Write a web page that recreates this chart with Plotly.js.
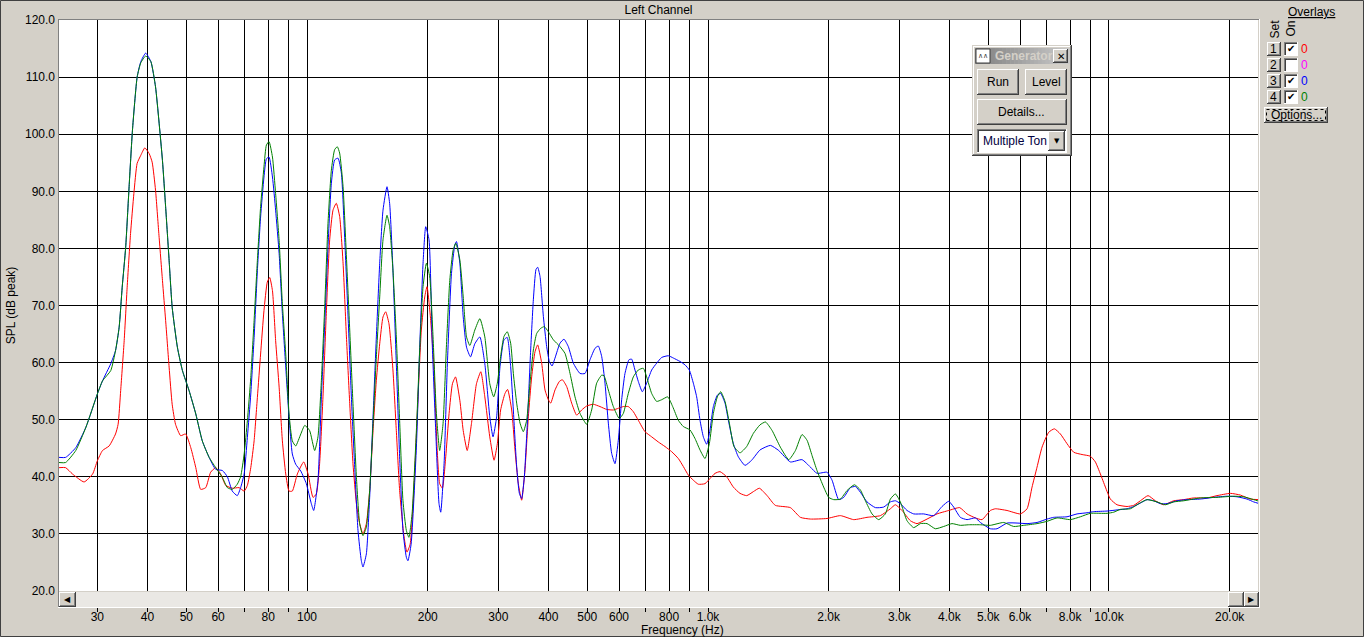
<!DOCTYPE html>
<html>
<head>
<meta charset="utf-8">
<script src="https://cdn.plot.ly/plotly-3.0.1.min.js"></script>
<style>html,body{margin:0;padding:0;background:#D4D0C8;}#chart{width:1364px;height:637px;}</style>
</head>
<body>
<div id="chart"></div>
<script>
// ---------------- DATA ----------------
const chartTitle = 'Left Channel';
const xTitle = 'Frequency (Hz)';
const yTitle = 'SPL (dB peak)';

const xTickVals = [30,40,50,60,70,80,90,100,200,300,400,500,600,700,800,900,1000,2000,3000,4000,5000,6000,7000,8000,9000,10000,20000];
const xTickText = ['30','40','50','60','','80','','100','200','300','400','500','600','','800','','1.0k','2.0k','3.0k','4.0k','5.0k','6.0k','','8.0k','','10.0k','20.0k'];
const yTickVals = [20,30,40,50,60,70,80,90,100,110,120];
const yTickText = ['20.0','30.0','40.0','50.0','60.0','70.0','80.0','90.0','100.0','110.0','120.0'];

// Set 1 (red)
const freqRed = [24.07,25.0,26.0,27.8,29.2,30.0,30.9,32.1,33.3,33.8,34.3,35.0,35.6,36.3,37.0,37.7,38.5,39.4,40.4,41.1,41.9,42.7,43.6,44.4,45.3,46.1,47.0,48.4,49.8,51.3,52.8,54.3,55.9,57.5,59.2,60.9,62.7,65.1,67.7,69.7,71.0,72.4,73.8,75.2,76.6,78.1,79.6,80.7,82.0,83.5,85.2,86.8,88.5,90.2,91.9,94.6,98.1,
 100.6,103.5,105.5,107.5,109.6,111.7,113.9,116.1,118.3,120.6,123.0,125.4,127.8,130.2,132.8,135.3,137.9,140.6,143.3,146.1,148.9,151.8,154.7,157.1,160.1,163.8,167.0,170.2,174.2,177.5,180.8,185.2,189.2,192.8,196.6,199.2,203.1,207.0,211.0,214.2,217.6,221.8,226.1,230.5,234.6,240.5,245.2,250.9,257.1,264.6,271.3,277.6,285.6,292.7,
 298.3,304.0,311.7,316.4,323.9,330.1,336.5,343.0,349.6,356.4,363.3,370.3,376.0,384.8,392.2,399.8,405.2,415.4,425.9,433.3,444.2,457.1,470.4,484.1,498.2,517.6,537.8,558.8,580.6,597.5,614.9,632.8,651.3,670.2,696.4,723.6,751.8,781.2,811.7,843.4,867.9,893.2,919.2,946.0,983.0,1011.6,1041.1,1071.4,1113.3,1156.7,1201.8,1248.7,1297.4,1342.9,
 1404,1472,1605,1700,1800,1981,2139,2309,2492,2691,2850,2933,3047,3197,3321,3518,3725,3983,4243,4426,4643,4824,5060,5208,5569,6012,6247,6429,6616,6809,7075,7309,7565,7859,8167,8567,8987,9248,9518,9795,10081,10474,11093,11525,11975,12514,13052,13692,14501,15358,16265,17558,18595,20077,21263,22521,23717];
const splRed = [41.6,41.6,40.5,39.1,40.5,42.8,44.6,45.4,47.5,49.2,55.1,63.9,73.2,82.6,89.6,94.9,96.3,97.6,96.6,95.1,90.2,82.6,74.4,67.4,59.2,52.7,49.2,47.2,47.5,45.1,41.6,37.8,38.1,40.8,41.6,40.5,38.5,38.0,38.1,37.5,38.5,41.6,46.3,53.9,61.5,69.1,74.1,74.9,72.6,63.9,55.7,46.3,40.5,37.5,37.5,40.5,42.6,
 40.5,36.4,37.0,42.3,54.0,68.6,81.5,86.7,87.9,85.6,77.4,64.5,52.8,42.3,35.3,31.8,30.0,31.8,37.6,48.1,56.9,63.3,68.0,68.9,66.8,58.7,48.1,37.6,30.0,26.8,28.2,39.4,54.0,65.7,71.5,73.3,68.0,59.8,45.2,38.8,38.0,43.5,51.1,56.3,57.5,53.4,48.1,44.6,49.3,56.3,58.4,54.0,47.0,42.9,
 45.8,51.7,54.6,55.3,51.7,44.7,38.8,35.9,41.2,50.5,57.5,61.9,63.1,59.9,55.2,53.5,52.9,55.2,56.7,57.0,55.8,52.9,50.8,51.7,52.4,52.7,52.3,51.8,51.7,52.0,52.3,52.3,51.4,49.9,47.9,47.0,46.1,45.3,44.4,43.2,41.8,40.3,39.4,38.7,38.8,39.7,40.6,40.9,40.0,38.2,37.1,36.7,37.4,38.0,
 36.7,35.0,34.6,32.9,32.6,32.7,33.2,32.5,32.9,33.2,34.4,35.1,34.1,32.3,31.8,32.6,33.5,34.1,34.6,33.5,32.8,32.5,34.1,34.4,34.1,33.5,34.4,38.2,41.7,45.2,47.8,48.4,47.5,45.8,44.3,43.9,43.6,42.6,40.5,38.2,36.1,35.1,34.8,35.0,35.8,36.7,35.8,35.1,35.8,36.0,36.3,36.3,36.7,37.1,36.8,36.1,36.0];

// Set 3 (blue)
const freqBlue = [24.07,25.0,26.5,28.1,30.0,30.9,32.4,33.3,34.0,34.6,35.3,36.0,36.7,37.7,38.5,39.6,40.8,41.9,42.7,43.6,44.4,45.3,46.1,47.5,48.9,50.8,52.8,54.8,57.0,59.2,61.5,63.3,65.1,67.0,68.3,69.7,71.0,72.4,73.8,75.2,76.6,78.1,79.2,80.4,82.0,83.5,85.2,86.8,88.5,90.2,91.9,93.7,96.5,
 99.6,102.5,103.9,106.5,108.6,110.7,112.8,115.0,117.2,119.5,121.8,124.2,126.6,129.0,131.5,134.0,136.6,137.9,140.6,143.3,146.1,148.9,151.8,154.7,158.3,160.7,163.8,167.0,170.2,173.5,176.9,178.5,181.8,187.4,191.0,194.7,197.7,201.5,205.4,209.4,213.4,215.5,219.7,223.9,229.2,233.7,235.9,240.5,245.2,249.9,255.7,262.1,269.8,277.6,285.6,291.0,
 297.1,302.9,309.9,315.8,322.0,327.0,333.3,338.5,343.0,348.3,355.0,361.2,366.8,372.4,376.0,381.1,388.5,396.0,402.1,408.3,415.4,427.5,437.4,448.4,461.5,479.5,493.5,507.8,522.6,532.7,543.0,553.5,564.2,575.1,586.2,597.5,609.1,620.8,635.2,645.1,657.5,670.2,685.8,703.1,723.6,744.7,766.4,796.3,819.5,851.5,876.3,898.4,919.2,937.0,955.1,973.6,992.4,1011.6,1031.2,1055.1,1075.5,1102.7,1124.0,1156.7,1190.3,1236.8,1285.0,1348.1,
 1431,1501,1605,1716,1800,1870,1981,2039,2118,2180,2265,2331,2399,2492,2615,2743,2850,2933,3018,3136,3258,3451,3655,3834,3983,4099,4259,4426,4643,4778,5060,5258,5569,5898,6247,6616,7007,7281,7859,8325,8816,9161,9889,10474,11093,11525,11975,12442,12928,13433,13957,14781,15654,16899,18242,19696,20860,22093,22956,23717];
const splBlue = [43.4,43.4,45.1,48.7,54.5,56.8,59.8,62.1,66.2,73.2,80.2,90.8,100.7,110.0,112.7,114.2,112.7,108.3,102.5,95.4,87.3,77.9,69.7,62.7,58.6,55.1,51.0,46.3,43.4,41.3,41.1,40.0,37.5,36.7,38.1,40.5,46.9,54.5,64.4,76.1,85.5,92.5,95.7,96.0,92.5,86.7,79.1,68.6,59.2,50.4,44.0,42.2,41.0,
 38.8,35.3,34.1,39.4,54.0,66.8,80.3,91.4,95.5,95.8,93.2,81.5,68.0,54.0,41.7,30.6,25.3,24.2,26.5,36.4,50.5,64.5,77.4,86.7,90.8,87.9,76.2,59.8,43.5,30.6,25.9,25.3,28.2,45.2,62.7,77.4,83.8,81.5,62.7,48.1,35.3,33.8,42.3,59.8,75.6,80.6,81.2,77.4,68.0,62.7,61.0,63.3,64.5,59.8,50.5,47.0,
 50.5,59.3,64.0,64.4,59.3,51.7,41.8,37.1,36.2,40.0,50.5,62.2,71.0,76.3,76.7,75.1,68.1,62.8,60.2,59.4,60.8,63.4,64.1,62.8,59.9,58.1,58.1,60.5,62.5,62.9,61.1,56.4,49.4,44.1,42.3,46.4,53.5,58.1,60.5,60.6,58.7,56.7,54.9,56.4,58.7,59.9,60.9,61.2,60.8,60.2,59.6,58.7,56.4,54.0,49.9,47.0,45.7,48.2,52.3,54.3,54.6,52.9,49.9,45.8,43.5,42.0,42.9,44.7,
 45.5,44.6,42.6,43.0,41.7,40.6,40.8,39.4,36.0,36.4,38.1,38.3,37.3,35.6,34.6,34.7,35.6,35.8,35.3,34.1,33.5,33.5,33.2,34.8,35.7,34.7,32.9,32.5,32.8,32.0,30.9,30.9,31.9,31.9,31.8,32.0,32.6,32.9,33.0,33.5,33.7,33.9,34.0,34.2,34.4,34.8,35.4,36.0,35.8,35.3,35.3,35.8,36.0,36.1,36.4,36.6,36.5,36.1,35.6,35.3];

// Set 4 (green)
const freqGreen = [24.07,25.0,26.5,28.1,30.0,30.9,32.4,33.3,34.0,34.6,35.3,36.0,36.7,37.7,38.5,39.6,40.8,41.9,42.7,43.6,44.4,45.3,46.1,47.5,48.9,50.8,52.8,54.8,57.0,59.2,61.5,63.3,65.1,67.0,68.3,69.7,71.0,72.4,73.8,75.2,76.6,78.1,79.2,80.4,82.0,83.5,85.2,86.8,88.5,90.2,91.9,93.7,96.5,
 98.7,101.5,104.5,106.5,108.6,110.7,112.8,115.0,117.2,119.0,120.6,123.0,125.4,127.8,130.2,132.8,135.3,137.9,140.6,143.3,146.1,148.9,151.8,154.7,158.3,160.7,163.8,167.0,170.2,173.5,176.9,179.5,182.8,187.4,191.0,194.7,198.5,202.3,206.2,210.2,214.2,218.4,222.6,227.0,231.4,235.0,240.5,245.2,249.9,254.7,262.1,269.8,277.6,285.6,292.1,
 298.3,304.0,309.9,315.8,322.0,327.0,333.3,339.8,346.3,353.0,359.8,366.8,373.9,382.6,390.7,399.8,411.4,427.5,440.0,452.8,465.9,479.5,498.2,512.7,527.6,543.0,550.3,564.2,580.6,601.0,614.9,632.8,651.3,670.2,689.8,703.1,723.6,744.7,766.4,793.3,816.4,843.4,867.9,901.8,928.1,955.1,983.0,1007.7,1031.2,1055.1,1075.5,1102.7,1130.5,1161.1,1201.8,1248.7,1297.4,1348.1,
 1391,1445,1515,1590,1652,1716,1766,1818,1870,1943,2000,2058,2139,2222,2318,2399,2469,2565,2665,2769,2850,2933,3018,3136,3258,3386,3518,3690,3871,4060,4259,4468,4778,5060,5463,5786,6128,6616,7007,7422,8012,8486,8987,9889,10275,10676,11307,11861,12442,13178,13824,14501,15358,16899,18595,20464,21674,22956,23717];
const splGreen = [42.5,42.5,44.6,48.7,54.5,56.8,58.6,62.1,66.2,73.2,80.2,90.8,100.7,110.0,112.5,113.7,112.7,108.3,102.5,95.4,87.3,77.9,69.7,62.7,58.6,55.1,51.0,46.3,43.4,41.6,39.9,38.1,37.8,38.7,40.0,44.0,49.8,57.4,67.4,77.9,87.3,94.3,98.1,98.7,96.0,89.6,81.4,70.3,61.5,51.0,46.3,45.4,47.5,
 49.0,48.1,44.6,47.0,56.9,69.8,84.4,93.7,97.3,97.8,96.7,90.8,78.5,65.7,52.8,39.9,31.8,29.7,31.2,37.6,49.3,61.0,71.5,81.5,85.8,83.8,76.2,64.5,49.9,35.8,30.6,29.4,33.5,48.1,62.2,73.3,77.4,75.0,64.5,51.1,44.6,49.3,62.7,74.4,79.7,80.9,78.0,71.5,64.5,63.0,65.7,67.7,64.5,56.3,54.0,
 56.4,61.1,64.6,65.4,63.4,58.1,52.9,49.4,47.9,49.9,56.4,62.2,65.1,66.0,66.3,65.4,64.0,62.8,61.6,58.1,54.0,51.1,49.2,51.7,56.4,57.8,57.7,55.2,52.3,50.2,51.1,54.6,57.5,58.7,59.0,57.5,54.6,53.2,53.5,54.0,52.3,49.9,48.8,48.2,46.7,44.7,43.2,45.8,51.1,54.0,54.9,53.2,49.4,45.3,44.2,45.3,47.6,49.1,
 49.6,48.1,45.2,43.0,44.6,47.4,46.4,43.7,41.1,38.2,36.4,36.0,36.1,37.6,38.6,37.7,35.8,33.5,32.5,33.5,36.1,37.0,35.6,32.3,31.1,31.8,31.8,30.9,31.3,31.8,31.5,31.6,31.6,31.5,32.0,31.3,31.5,31.8,32.2,32.8,32.5,33.0,33.6,33.6,33.8,34.3,34.4,35.3,36.0,35.6,35.1,35.6,35.8,36.3,36.4,36.6,36.5,36.0,35.7];

// Overlay panel contents
const overlaySets = ['1','2','3','4'];
const overlayOn = [true,false,true,true];
const overlayColors = ['#FF0000','#FF00FF','#0000FF','#008000'];
const overlayValues = ['0','0','0','0'];

// ---------------- LAYOUT HELPERS (chrome only) ----------------
const FONT = 'Liberation Sans, Arial, sans-serif';
const L = 59, R = 1258, T = 20, B = 591;
const px = x => (x - L) / (R - L);
const py = y => (B - y) / (B - T);
const shapes = [];
const annotations = [];
function rect(x0, y0, x1, y1, fill, line, dash) {
  shapes.push({type:'rect', xref:'paper', yref:'paper', layer:'above',
    x0:px(x0), x1:px(x1), y0:py(y1), y1:py(y0),
    fillcolor: fill || 'rgba(0,0,0,0)',
    line:{color: line || 'rgba(0,0,0,0)', width: line ? 1 : 0, dash: dash || 'solid'}});
}
function seg(x0, y0, x1, y1, c) {
  shapes.push({type:'line', xref:'paper', yref:'paper', layer:'above',
    x0:px(x0), x1:px(x1), y0:py(y0), y1:py(y1), line:{color:c, width:1}});
}
function raised(x0, y0, x1, y1) {
  rect(x0, y0, x1, y1, '#D4D0C8');
  seg(x0, y0 + 0.5, x1 - 1, y0 + 0.5, '#FFFFFF');
  seg(x0 + 0.5, y0, x0 + 0.5, y1 - 1, '#FFFFFF');
  seg(x0, y1 - 0.5, x1, y1 - 0.5, '#404040');
  seg(x1 - 0.5, y0, x1 - 0.5, y1, '#404040');
  seg(x0 + 1, y1 - 1.5, x1 - 1, y1 - 1.5, '#808080');
  seg(x1 - 1.5, y0 + 1, x1 - 1.5, y1 - 1, '#808080');
}
function sunken(x0, y0, x1, y1, fill) {
  rect(x0, y0, x1, y1, fill);
  seg(x0, y0 + 0.5, x1, y0 + 0.5, '#808080');
  seg(x0 + 0.5, y0, x0 + 0.5, y1, '#808080');
  seg(x0 + 1, y0 + 1.5, x1 - 1, y0 + 1.5, '#404040');
  seg(x0 + 1.5, y0 + 1, x0 + 1.5, y1 - 1, '#404040');
  seg(x0, y1 - 0.5, x1, y1 - 0.5, '#FFFFFF');
  seg(x1 - 0.5, y0, x1 - 0.5, y1, '#FFFFFF');
}
function label(x, y, s, o) {
  o = o || {};
  annotations.push({xref:'paper', yref:'paper', x:px(x), y:py(y), text:s, showarrow:false,
    xanchor:o.xa || 'center', yanchor:'middle', textangle:o.angle || 0,
    font:{family:o.family || FONT, size:o.size || 12, color:o.color || '#000000'}});
}

// outer window frame
rect(0.5, 0.5, 1363.5, 636.5, null, '#404040');
// plot area sunken edges
seg(58.5, 19, 58.5, 608, '#808080');
seg(58, 19.5, 1260, 19.5, '#808080');
seg(1259.5, 19, 1259.5, 608, '#FFFFFF');
seg(58, 607.5, 1260, 607.5, '#FFFFFF');

// horizontal scrollbar
rect(59, 592, 1259, 607, '#EAE8E4');
raised(59, 592, 76, 607);
label(67.5, 599.5, '◀', {size:8, family:'DejaVu Sans'});
raised(1228, 592, 1244, 607);
raised(1244, 592, 1259, 607);
label(1251.5, 599.5, '▶', {size:8, family:'DejaVu Sans'});

// x title (centred on the window)
label(682, 629.5, xTitle);

// overlays panel
label(1311, 12.5, '<span style="text-decoration:underline">Overlays</span>');
label(1274.5, 29, 'Set', {angle:-90});
label(1290.5, 29, 'On', {angle:-90});
overlaySets.forEach((s, i) => {
  const y0 = 42 + 16 * i;
  raised(1267, y0, 1281, y0 + 14);
  label(1273.5, y0 + 6.5, s);
  sunken(1284, y0, 1298, y0 + 14, '#FFFFFF');
  if (overlayOn[i]) label(1291, y0 + 7, '✔', {size:10, family:'DejaVu Sans'});
  label(1304, y0 + 7, overlayValues[i], {color:overlayColors[i]});
});
raised(1264, 107, 1328, 123);
rect(1266.5, 109.5, 1325.5, 120.5, null, '#000000', 'dot');
label(1296, 115, 'Options...');

// generator window
rect(972, 45, 1072, 156, '#D4D0C8');
seg(973.5, 46, 973.5, 155, '#FFFFFF');
seg(973, 46.5, 1071, 46.5, '#FFFFFF');
seg(972, 155.5, 1072, 155.5, '#404040');
seg(1071.5, 45, 1071.5, 156, '#404040');
seg(973, 154.5, 1071, 154.5, '#808080');
seg(1070.5, 46, 1070.5, 155, '#808080');
const steps = 24;
for (let k = 0; k < steps; k++) {
  const t = k / (steps - 1);
  const v = Math.round(128 + t * (200 - 128));
  const col = 'rgb(' + v + ',' + v + ',' + v + ')';
  const xa = 975 + (1069 - 975) * k / steps, xb = 975 + (1069 - 975) * (k + 1) / steps + 0.5;
  rect(xa, 48, xb, 64, col);
}
rect(976, 49, 990, 63, '#FFFFFF', '#404040');
label(983, 56, '∧∧', {size:7, family:'DejaVu Sans', color:'#404040'});
label(993, 56, '<b>Generator</b>', {xa:'left', color:'#D4D0C8'});
raised(1053, 49, 1068, 63);
label(1060.5, 56, '<b>✕</b>', {size:10, family:'DejaVu Sans'});
raised(977, 69, 1019, 95);
label(998, 82, 'Run');
raised(1025, 69, 1067, 95);
label(1046, 82, 'Level');
raised(977, 99, 1067, 125);
label(1022, 112, 'Details...');
sunken(977, 129, 1067, 153, '#FFFFFF');
label(981, 141, 'Multiple Ton', {xa:'left', color:'#000040'});
raised(1048, 131, 1065, 151);
label(1056.5, 141, '▼', {size:7, family:'DejaVu Sans'});

// ---------------- TRACES ----------------
function series(fx, fy, color) {
  return {x: fx, y: fy, type:'scatter', mode:'lines', hoverinfo:'skip',
    line:{color: color, width: 1, shape:'spline', smoothing:0.5}};
}
const data = [
  series(freqRed, splRed, '#FF0000'),
  series(freqBlue, splBlue, '#0000FF'),
  series(freqGreen, splGreen, '#008000')
];

const layout = {
  width: 1364, height: 637,
  margin: {l: L, r: 1364 - R, t: T, b: 637 - B, pad: 0},
  paper_bgcolor: '#D4D0C8', plot_bgcolor: '#FFFFFF',
  showlegend: false,
  font: {family: FONT, size: 12, color: '#000000'},
  title: {text: chartTitle, x: 0.5, xref: 'paper', xanchor: 'center', y: 1 - 9.5 / 637, yanchor: 'middle',
    font: {family: FONT, size: 12, color: '#000000'}},
  xaxis: {type: 'log', range: [Math.log10(24.07), Math.log10(23530)],
    tickmode: 'array', tickvals: xTickVals, ticktext: xTickText,
    ticks: 'outside', ticklen: 20, tickwidth: 1, tickcolor: '#000000', ticklabelstandoff: -5,
    showgrid: true, gridcolor: '#000000', gridwidth: 1, zeroline: false, showline: false,
    tickfont: {family: FONT, size: 12, color: '#000000'}, fixedrange: true},
  yaxis: {range: [20, 120], tickmode: 'array', tickvals: yTickVals, ticktext: yTickText,
    ticks: '', ticklabelstandoff: 3,
    showgrid: true, gridcolor: '#000000', gridwidth: 1, zeroline: false, showline: false,
    tickfont: {family: FONT, size: 12, color: '#000000'}, fixedrange: true,
    title: {text: yTitle, standoff: 6, font: {family: FONT, size: 12, color: '#000000'}}},
  shapes: shapes,
  annotations: annotations
};

Plotly.newPlot('chart', data, layout, {displayModeBar: false, staticPlot: true});
</script>
</body>
</html>
